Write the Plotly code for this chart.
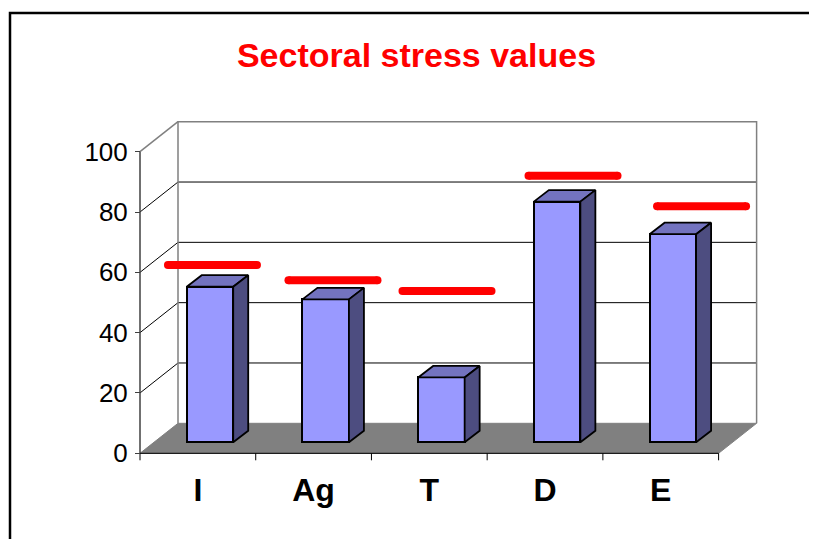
import plotly.graph_objects as go

# ---------------- data ----------------
categories = ["I", "Ag", "T", "D", "E"]
stress_values = [51.6, 47.4, 21.5, 79.8, 69.0]      # bar heights
target_values = [62.4, 57.4, 53.8, 92.0, 81.9]      # red marks, read on the front axis
y_tick_values = [0, 20, 40, 60, 80, 100]
y_tick_labels = ["0", "20", "40", "60", "80", "100"]

# ---------------- geometry / style constants (page pixels) ----------------
PAGE_W, PAGE_H = 817, 539
OFF = 8                     # the page body margin puts the figure at (8, 8)
W, H = PAGE_W - OFF, PAGE_H - OFF
PLOT_L, PLOT_R, PLOT_T, PLOT_B = 100, 800, 100, 500   # page px
AX_X0_PX, AX_X1_PX = 140.0, 718.6
AX_Y0_PX, AX_Y100_PX = 453.3, 151.7
DEPTH_DX_PX, DEPTH_DY_PX = 38.0, 30.0
BAR_SHIFT_DX_PX, BAR_SHIFT_DY_PX = 12.1, 11.0
BAR_W_PX = 46.5
BAR_DEPTH_DX_PX, BAR_DEPTH_DY_PX = 15.0, 11.5
TARGET_DX_PX = [14.6, 19.4, 17.7, 28.0, 40.8]
TARGET_HALF_PX = 44.5
TICK_LEN_PX = 7

FONT = "Liberation Sans, Arial, Helvetica, sans-serif"
FRONT = "#9999FF"
TOP = "#7373BF"
SIDE = "#4D4D80"
FLOOR = "#808080"

n = len(categories)
SX = (AX_X1_PX - AX_X0_PX) / n
SY = (AX_Y0_PX - AX_Y100_PX) / 100.0


def ux(px):
    return (px - AX_X0_PX) / SX - 0.5


def uy(py):
    return (AX_Y0_PX - py) / SY


DX, DY = DEPTH_DX_PX / SX, DEPTH_DY_PX / SY
BX, BY = BAR_SHIFT_DX_PX / SX, BAR_SHIFT_DY_PX / SY
BW = BAR_W_PX / SX
BDX, BDY = BAR_DEPTH_DX_PX / SX, BAR_DEPTH_DY_PX / SY
xl, xr = -0.5, n - 0.5
vmax = y_tick_values[-1]

shapes = []


def seg(x0, y0, x1, y1, color, width, layer="below"):
    shapes.append(dict(type="line", xref="x", yref="y", x0=x0, y0=y0, x1=x1, y1=y1,
                       line=dict(color=color, width=width), layer=layer))


# floor
shapes.append(dict(type="path", xref="x", yref="y", layer="below",
                   path=f"M {xl},0 L {xr},0 L {xr+DX},{DY} L {xl+DX},{DY} Z",
                   fillcolor=FLOOR, line=dict(color=FLOOR, width=1)))
# back wall gridlines and left wall diagonals
for v in y_tick_values[1:-1]:
    seg(xl + DX, v + DY, xr + DX, v + DY, "black", 1)
    seg(xl, v, xl + DX, v + DY, "black", 1)
# back wall outline (gray)
shapes.append(dict(type="path", xref="x", yref="y", layer="below",
                   path=f"M {xl+DX},{DY} L {xl+DX},{vmax+DY} L {xr+DX},{vmax+DY} L {xr+DX},{DY}",
                   line=dict(color="#808080", width=1.5)))
seg(xl, vmax, xl + DX, vmax + DY, "#808080", 1.5)
# front axes
seg(xl, 0, xr, 0, "black", 1)
seg(xl, 0, xl, vmax, "#404040", 1.5)
for k in range(n + 1):
    b = xl + k
    seg(b, 0, b, -TICK_LEN_PX / SY, "black", 1)


def px_to_paper_x(px):
    return (px - PLOT_L) / (PLOT_R - PLOT_L)


def px_to_paper_y(py):
    return (PLOT_B - py) / (PLOT_B - PLOT_T)


# border of the chart area
shapes.append(dict(type="rect", xref="paper", yref="paper",
                   x0=px_to_paper_x(10), x1=px_to_paper_x(840),
                   y0=px_to_paper_y(560), y1=px_to_paper_y(13),
                   line=dict(color="black", width=2.5), layer="above"))

fig = go.Figure()

# bar front faces
bar_x = [i + BX for i in range(n)]
fig.add_trace(go.Bar(x=bar_x, y=stress_values, base=[BY] * n, width=BW,
                     marker=dict(color=FRONT, line=dict(color="black", width=2)),
                     hoverinfo="skip", showlegend=False))

# bar top and side faces
tx, ty, sx, sy = [], [], [], []
for i, v in enumerate(stress_values):
    x0 = bar_x[i] - BW / 2
    x1 = bar_x[i] + BW / 2
    top = BY + v
    tx += [x0, x1, x1 + BDX, x0 + BDX, x0, None]
    ty += [top, top, top + BDY, top + BDY, top, None]
    sx += [x1, x1 + BDX, x1 + BDX, x1, x1, None]
    sy += [BY, BY + BDY, top + BDY, top, BY, None]
fig.add_trace(go.Scatter(x=tx, y=ty, mode="lines", fill="toself", fillcolor=TOP,
                         line=dict(color="black", width=1.8), hoverinfo="skip", showlegend=False))
fig.add_trace(go.Scatter(x=sx, y=sy, mode="lines", fill="toself", fillcolor=SIDE,
                         line=dict(color="black", width=1.8), hoverinfo="skip", showlegend=False))

# red target marks
rx, ry = [], []
h = TARGET_HALF_PX / SX
for i, v in enumerate(target_values):
    c = i + TARGET_DX_PX[i] / SX
    rx += [c - h, c + h, None]
    ry += [v, v, None]
fig.add_trace(go.Scatter(x=rx, y=ry, mode="lines+markers",
                         line=dict(color="#FF0000", width=8),
                         marker=dict(color="#FF0000", size=8, line=dict(width=0)),
                         hoverinfo="skip", showlegend=False, cliponaxis=False))

fig.update_layout(
    template="none",
    width=W, height=H,
    margin=dict(l=PLOT_L - OFF, r=PAGE_W - PLOT_R, t=PLOT_T - OFF, b=PAGE_H - PLOT_B,
                pad=0, autoexpand=False),
    paper_bgcolor="white", plot_bgcolor="white",
    shapes=shapes,
    title=dict(text="<b>Sectoral stress values</b>", x=(416.5 - OFF) / W, xanchor="center",
               xref="container",
               y=1 - (43 - OFF) / H, yanchor="top", yref="container",
               font=dict(family=FONT, size=34, color="#FF0000")),
    xaxis=dict(range=[ux(PLOT_L), ux(PLOT_R)], domain=[0, 1], automargin=False,
               anchor="free", position=px_to_paper_y(AX_Y0_PX),
               tickmode="array", tickvals=list(range(n)), ticktext=categories,
               ticks="", showgrid=False, zeroline=False, showline=False,
               ticklabelstandoff=15,
               tickfont=dict(family=FONT, size=32, color="black", weight="bold")),
    yaxis=dict(range=[uy(PLOT_B), uy(PLOT_T)], domain=[0, 1], automargin=False,
               anchor="free", position=px_to_paper_x(AX_X0_PX),
               tickmode="array", tickvals=y_tick_values, ticktext=y_tick_labels,
               ticks="outside", ticklen=5, tickcolor="#404040", tickwidth=1,
               showgrid=False, zeroline=False, showline=False,
               ticklabelstandoff=2,
               tickfont=dict(family=FONT, size=26, color="black")),
    bargap=0,
)

fig.write_html("out.html")
